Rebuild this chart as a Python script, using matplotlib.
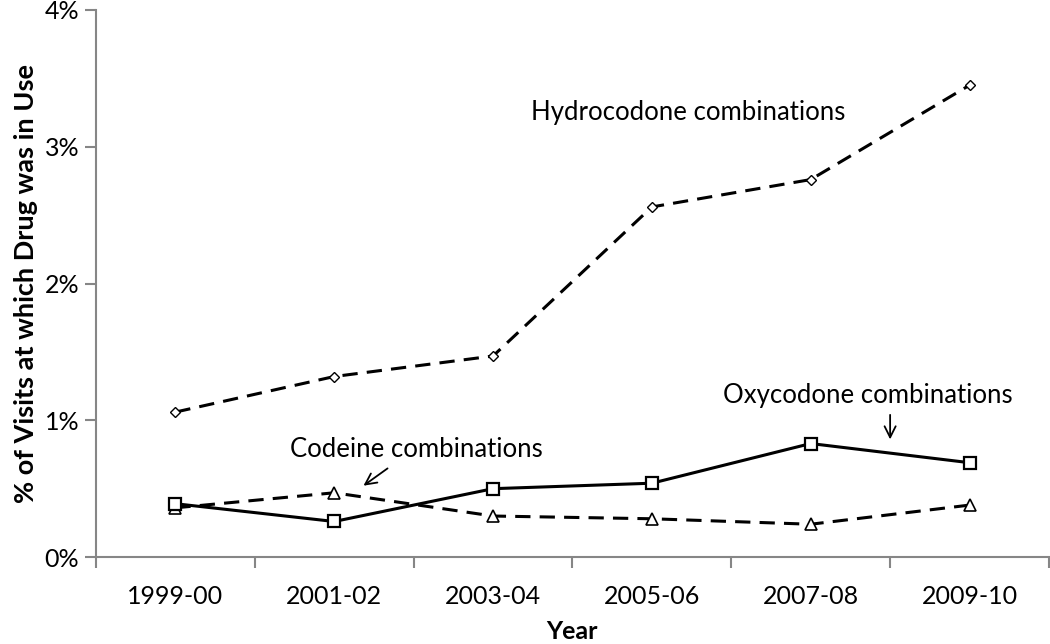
import numpy as np
import matplotlib.pyplot as plt

years = ["1999-00", "2001-02", "2003-04", "2005-06", "2007-08", "2009-10"]
hydrocodone = [1.06, 1.32, 1.47, 2.56, 2.76, 3.45]
oxycodone = [0.39, 0.26, 0.50, 0.54, 0.83, 0.69]
codeine = [0.36, 0.47, 0.30, 0.28, 0.24, 0.38]

plt.rcParams["font.family"] = ["Lato", "DejaVu Sans"]

fig = plt.figure(figsize=(10.5, 6.44), dpi=100)
ax = fig.add_axes([0.0914, 0.135, 0.9076, 0.8495])

x = np.arange(len(years))
dash = (0, (5, 3))

ax.plot(x, hydrocodone, color="black", linewidth=2.2, linestyle=dash,
        marker="D", markersize=5.5, markerfacecolor="white",
        markeredgecolor="black", markeredgewidth=1.0)
ax.plot(x, codeine, color="black", linewidth=2.2, linestyle=dash,
        marker="^", markersize=8, markerfacecolor="white",
        markeredgecolor="black", markeredgewidth=1.2)
ax.plot(x, oxycodone, color="black", linewidth=2.2, linestyle="-",
        marker="s", markersize=8.5, markerfacecolor="white",
        markeredgecolor="black", markeredgewidth=1.6)

ax.set_xlim(-0.5, 5.5)
ax.set_ylim(0, 4)
ax.set_yticks([0, 1, 2, 3, 4])
ax.set_yticklabels(["0%", "1%", "2%", "3%", "4%"], fontsize=18)
ax.set_xticks(x)
ax.set_xticklabels(years, fontsize=18)
ax.set_xticks(np.arange(-0.5, 6.0, 1.0), minor=True)
ax.tick_params(axis="x", which="major", length=0, pad=20)
ax.tick_params(axis="x", which="minor", length=8, width=1.5, color="#868686")
ax.tick_params(axis="y", length=8, width=1.5, color="#868686", pad=4)

for side in ["top", "right"]:
    ax.spines[side].set_visible(False)
for side in ["left", "bottom"]:
    ax.spines[side].set_color("#868686")
    ax.spines[side].set_linewidth(1.5)

ax.set_xlabel("Year", fontsize=18, fontweight="bold", labelpad=9)
ax.set_ylabel("% of Visits at which Drug was in Use", fontsize=19.5,
              fontweight="bold", labelpad=5)

ax.text(3.23, 3.25, "Hydrocodone combinations", fontsize=18.5, ha="center", va="center")
ax.text(4.36, 1.18, "Oxycodone combinations", fontsize=18.5, ha="center", va="center")
ax.text(1.52, 0.79, "Codeine combinations", fontsize=18.5, ha="center", va="center")

ax.annotate("", xy=(4.5, 0.84), xytext=(4.5, 1.06),
            arrowprops=dict(arrowstyle="->", color="black", lw=1.3,
                            mutation_scale=20))
ax.annotate("", xy=(1.17, 0.51), xytext=(1.35, 0.66),
            arrowprops=dict(arrowstyle="->", color="black", lw=1.3,
                            mutation_scale=20))

fig.savefig("out.png", dpi=100)
